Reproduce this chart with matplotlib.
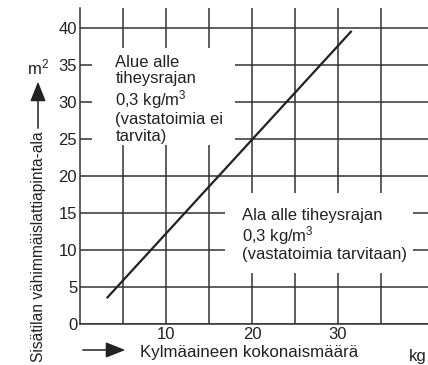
import matplotlib.pyplot as plt
from matplotlib.patches import Rectangle, FancyArrowPatch

plt.rcParams["font.family"] = ["Liberation Sans", "DejaVu Sans"]
plt.rcParams["mathtext.fontset"] = "custom"
plt.rcParams["mathtext.rm"] = "Liberation Sans"
plt.rcParams["mathtext.default"] = "regular"

# minimum floor area vs. total refrigerant charge (line end points)
charge_kg = [3.2, 31.5]
area_m2 = [3.6, 39.5]

x_major = [10, 20, 30]
x_minor = [5, 15, 25, 35]
y_ticks = [0, 5, 10, 15, 20, 25, 30, 35, 40]

W, H = 428, 365
INK = "#222222"
GRID = "#333333"
FS = 12


def px(x, y):
    return x / W, 1 - y / H


fig = plt.figure(figsize=(W / 100, H / 100), dpi=100)
ax = fig.add_axes([80 / W, (H - 324) / H, (W - 80) / W, (324 - 8) / H])
ax.set_xlim(0, (W - 80) / 8.6)
ax.set_ylim(0, (324 - 8) / 7.4)

ax.set_xticks(x_major)
ax.set_xticks(x_minor, minor=True)
ax.set_yticks(y_ticks)
ax.grid(True, which="both", color=GRID, lw=1.1, zorder=1)
ax.tick_params(which="both", length=0, labelsize=FS, colors=INK)
ax.tick_params(axis="y", pad=2)
ax.tick_params(axis="x", pad=2.5)
for side in ("top", "right"):
    ax.spines[side].set_visible(False)
for side in ("left", "bottom"):
    ax.spines[side].set_color(GRID)
    ax.spines[side].set_linewidth(1.1)

# white areas behind the two region notes
ax.add_patch(Rectangle((1.4, 24.2), 16.6, 13.1, fc="white", ec="none", zorder=2))
ax.add_patch(Rectangle((16.9, 6.9), 21.8, 10.8, fc="white", ec="none", zorder=2))

ax.plot(charge_kg, area_m2, color=INK, lw=1.6, zorder=3)

ax.text(4.1, 36.4, "Alue alle\ntiheysrajan\n0,3 kg/m$^3$\n(vastatoimia ei\ntarvita)",
        fontsize=FS, va="top", ha="left", linespacing=1.12, color=INK, zorder=4)
ax.text(18.8, 15.7, "Ala alle tiheysrajan\n0,3 kg/m$^3$\n(vastatoimia tarvitaan)",
        fontsize=FS, va="top", ha="left", linespacing=1.05, color=INK, zorder=4)

# axis titles with direction arrows
fig.text(*px(39, 247), "Sisätilan vähimmäislattiapinta-ala", rotation=90,
         ha="center", va="center", fontsize=11.2, color=INK)
fig.text(*px(38, 67), "m$^2$", ha="center", va="center", fontsize=FS, color=INK)
fig.patches.append(FancyArrowPatch(
    px(38, 131), px(38, 79), transform=fig.transFigure,
    arrowstyle="-|>,head_length=6,head_width=2.4", color=INK, lw=1.1, mutation_scale=2))
fig.patches.append(FancyArrowPatch(
    px(80, 350), px(128, 350), transform=fig.transFigure,
    arrowstyle="-|>,head_length=6,head_width=2.4", color=INK, lw=1.1, mutation_scale=2))
fig.text(*px(140, 353), "Kylmäaineen kokonaismäärä", ha="left", va="center",
         fontsize=12.2, color=INK)
fig.text(*px(409, 357), "kg", ha="left", va="center", fontsize=FS, color=INK)

fig.savefig("out.png", dpi=100)
